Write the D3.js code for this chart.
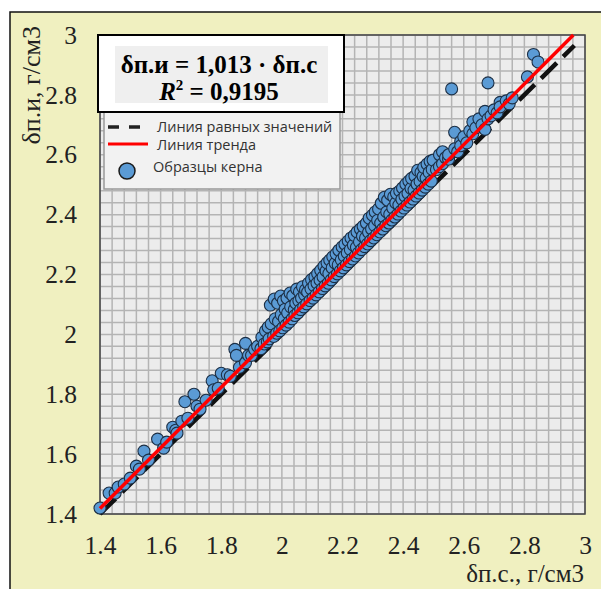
<!DOCTYPE html>
<html>
<head>
<meta charset="utf-8">
<script src="https://cdnjs.cloudflare.com/ajax/libs/d3/7.8.5/d3.min.js"></script>
<style>
  html, body { margin: 0; padding: 0; background: #fff; }
</style>
</head>
<body>
<svg id="chart" width="601" height="589"></svg>
<script>
// tick values and labels
var xTicks = [1.4, 1.6, 1.8, 2, 2.2, 2.4, 2.6, 2.8, 3];
var yTicks = [1.4, 1.6, 1.8, 2, 2.2, 2.4, 2.6, 2.8, 3];
var xTitle = "δп.с., г/см3";
var yTitle = "δп.и, г/см3";
var eqText = "δп.и = 1,013 · δп.с";
var r2Value = "0,9195";
var trendSlope = 1.013;
var legendLabels = ["Линия равных значений", "Линия тренда", "Образцы керна"];

// core samples [δп.с, δп.и]
var samples = [
  [1.40,1.42],[1.43,1.47],[1.45,1.47],[1.46,1.49],[1.48,1.50],[1.50,1.52],[1.52,1.56],[1.53,1.55],
  [1.545,1.61],[1.56,1.58],[1.59,1.65],[1.61,1.62],[1.62,1.64],[1.64,1.69],[1.65,1.68],[1.654,1.67],
  [1.67,1.71],[1.68,1.775],[1.69,1.72],[1.71,1.80],[1.72,1.76],[1.73,1.75],[1.75,1.78],[1.77,1.845],
  [1.775,1.815],[1.79,1.82],[1.80,1.87],[1.82,1.865],[1.83,1.86],[1.845,1.95],[1.85,1.93],[1.86,1.89],
  [1.88,1.97],[1.88,1.905],[1.89,1.93],[1.90,1.93],[1.91,1.95],[1.92,1.96],
  [1.931,1.952],[1.934,1.99],[1.942,1.968],[1.946,2.012],[1.952,1.975],[1.955,2.024],[1.958,1.985],
  [1.962,2.098],[1.965,2.035],[1.973,1.993],[1.975,2.118],[1.978,2.052],[1.983,2.004],[1.986,2.104],
  [1.989,2.043],[1.993,2.012],[1.996,2.128],[1.998,2.066],[2.003,2.022],[2.005,2.112],[2.008,2.053],
  [2.011,2.084],[2.014,2.031],[2.017,2.121],[2.019,2.072],[2.024,2.041],[2.027,2.138],[2.029,2.092],
  [2.034,2.052],[2.036,2.129],[2.041,2.083],[2.043,2.063],[2.046,2.104],[2.049,2.151],[2.053,2.072],
  [2.056,2.112],[2.058,2.142],[2.062,2.083],[2.065,2.121],[2.068,2.159],[2.072,2.092],[2.075,2.132],
  [2.078,2.149],[2.082,2.102],[2.085,2.141],[2.088,2.171],[2.093,2.113],[2.096,2.152],[2.098,2.183],
  [2.103,2.121],[2.106,2.163],[2.109,2.192],[2.113,2.132],[2.116,2.171],[2.118,2.203],[2.123,2.142],
  [2.126,2.181],[2.128,2.214],[2.134,2.153],[2.136,2.192],[2.139,2.228],[2.143,2.162],[2.146,2.212],
  [2.149,2.239],[2.153,2.171],[2.155,2.203],[2.158,2.248],[2.163,2.182],[2.166,2.222],[2.168,2.259],
  [2.173,2.193],[2.176,2.238],[2.179,2.269],[2.183,2.202],[2.186,2.232],[2.188,2.281],[2.193,2.212],
  [2.196,2.249],[2.199,2.292],[2.203,2.222],[2.206,2.261],[2.208,2.301],[2.213,2.232],[2.216,2.272],
  [2.219,2.312],[2.223,2.243],[2.226,2.283],[2.228,2.322],[2.233,2.252],[2.236,2.298],[2.239,2.331],
  [2.243,2.262],[2.246,2.291],[2.248,2.342],[2.253,2.272],[2.256,2.309],[2.259,2.352],[2.263,2.283],
  [2.266,2.328],[2.268,2.361],[2.273,2.293],[2.276,2.322],[2.279,2.372],[2.283,2.302],[2.286,2.341],
  [2.288,2.388],[2.293,2.313],[2.296,2.352],[2.299,2.398],[2.303,2.322],[2.306,2.363],[2.308,2.409],
  [2.313,2.333],[2.316,2.381],[2.319,2.419],[2.323,2.342],[2.326,2.372],[2.328,2.438],[2.333,2.352],
  [2.336,2.392],[2.338,2.458],[2.343,2.363],[2.346,2.409],[2.349,2.448],[2.353,2.372],[2.356,2.401],
  [2.358,2.468],[2.363,2.382],[2.366,2.422],[2.369,2.459],[2.373,2.392],[2.376,2.439],[2.378,2.471],
  [2.383,2.402],[2.386,2.432],[2.389,2.479],[2.393,2.412],[2.396,2.451],[2.398,2.489],[2.403,2.422],
  [2.406,2.462],[2.409,2.502],[2.413,2.432],[2.416,2.471],[2.419,2.512],[2.423,2.442],[2.426,2.488],
  [2.428,2.521],[2.433,2.452],[2.436,2.482],[2.439,2.529],[2.443,2.462],[2.446,2.502],[2.448,2.548],
  [2.453,2.472],[2.456,2.511],[2.459,2.541],[2.463,2.482],[2.466,2.528],[2.468,2.558],[2.473,2.492],
  [2.476,2.522],[2.479,2.569],[2.483,2.502],[2.486,2.541],[2.489,2.578],[2.493,2.512],[2.496,2.551],
  [2.499,2.582],
  [2.51,2.55],[2.52,2.60],[2.52,2.56],[2.53,2.61],[2.53,2.57],[2.54,2.59],[2.55,2.585],[2.55,2.60],
  [2.56,2.82],[2.57,2.675],[2.57,2.62],[2.58,2.61],[2.59,2.645],[2.59,2.63],[2.60,2.66],[2.61,2.64],
  [2.62,2.68],[2.63,2.71],[2.63,2.67],[2.64,2.69],[2.65,2.72],[2.66,2.70],[2.67,2.685],[2.67,2.745],
  [2.68,2.84],[2.68,2.72],[2.69,2.73],[2.70,2.75],[2.71,2.74],[2.72,2.775],[2.72,2.76],[2.74,2.78],
  [2.75,2.77],[2.76,2.79],[2.81,2.86],[2.83,2.935],[2.845,2.91]
];

var serif = "'Liberation Serif', 'Times New Roman', serif";
var sans = "'Open Sans', 'Noto Sans', sans-serif";

var svg = d3.select("#chart");

// outer chart area
svg.append("rect").attr("x", 10).attr("y", 12).attr("width", 620).attr("height", 600)
  .attr("fill", "#f0f0c0").attr("stroke", "#111").attr("stroke-width", 1.5);

var plot = {left: 100, top: 35, right: 585, bottom: 514};
var x = d3.scaleLinear().domain([1.4, 3]).range([plot.left, plot.right]);
var y = d3.scaleLinear().domain([1.4, 3]).range([plot.bottom, plot.top]);

svg.append("rect").attr("x", plot.left).attr("y", plot.top)
  .attr("width", plot.right - plot.left).attr("height", plot.bottom - plot.top)
  .attr("fill", "#ececec");

// minor grid every 0.04
var grid = d3.range(0, 41).map(function (i) { return 1.4 + i * 0.04; });
svg.append("g").selectAll("line").data(grid).enter().append("line")
  .attr("x1", function (d) { return x(d); }).attr("x2", function (d) { return x(d); })
  .attr("y1", plot.top).attr("y2", plot.bottom)
  .attr("stroke", "#b4b4b4").attr("stroke-width", 1.5);
svg.append("g").selectAll("line").data(grid).enter().append("line")
  .attr("y1", function (d) { return y(d); }).attr("y2", function (d) { return y(d); })
  .attr("x1", plot.left).attr("x2", plot.right)
  .attr("stroke", "#b4b4b4").attr("stroke-width", 1.5);

svg.append("rect").attr("x", plot.left).attr("y", plot.top)
  .attr("width", plot.right - plot.left).attr("height", plot.bottom - plot.top)
  .attr("fill", "none").attr("stroke", "#444").attr("stroke-width", 1.5);

// axes
var xAxis = d3.axisBottom(x).tickValues(xTicks).tickSize(0).tickPadding(22)
  .tickFormat(function (d) { return String(d); });
var yAxis = d3.axisLeft(y).tickValues(yTicks).tickSize(0).tickPadding(23)
  .tickFormat(function (d) { return String(d); });
var gx = svg.append("g").attr("transform", "translate(0," + plot.bottom + ")").call(xAxis);
var gy = svg.append("g").attr("transform", "translate(" + plot.left + ",0)").call(yAxis);
[gx, gy].forEach(function (g) {
  g.select(".domain").remove();
  g.selectAll("text").style("font-family", serif).style("font-size", "25.5px").style("fill", "#222");
});

svg.append("text").attr("x", 584).attr("y", 582).attr("text-anchor", "end")
  .style("font-family", serif).style("font-size", "25px").style("fill", "#222").text(xTitle);
svg.append("text").attr("transform", "translate(40,26) rotate(-90)").attr("text-anchor", "end")
  .style("font-family", serif).style("font-size", "26px").style("fill", "#222").text(yTitle);

// equal-values line
svg.append("line")
  .attr("x1", x(1.4)).attr("y1", y(1.4)).attr("x2", x(2.965)).attr("y2", y(2.965))
  .attr("stroke", "#111").attr("stroke-width", 4.5).attr("stroke-dasharray", "22,9");

// samples
svg.append("g").selectAll("circle").data(samples).enter().append("circle")
  .attr("cx", function (d) { return x(d[0]); })
  .attr("cy", function (d) { return y(d[1]); })
  .attr("r", 6)
  .attr("fill", "#5b9bd5").attr("stroke", "#1c2f45").attr("stroke-width", 1.1);

// trend line
svg.append("line")
  .attr("x1", x(1.4)).attr("y1", y(1.4 * trendSlope))
  .attr("x2", x(3 / trendSlope)).attr("y2", y(3))
  .attr("stroke", "#ff0000").attr("stroke-width", 3.5);

// legend
var lg = svg.append("g");
lg.append("rect").attr("x", 104).attr("y", 112).attr("width", 236).attr("height", 77)
  .attr("fill", "#f2f2f2").attr("stroke", "#999").attr("stroke-width", 1.5);
lg.append("line").attr("x1", 108).attr("x2", 143).attr("y1", 127).attr("y2", 127)
  .attr("stroke", "#222").attr("stroke-width", 3.5).attr("stroke-dasharray", "11,10");
lg.append("line").attr("x1", 108).attr("x2", 148).attr("y1", 144).attr("y2", 144)
  .attr("stroke", "#ff0000").attr("stroke-width", 3);
lg.append("circle").attr("cx", 127).attr("cy", 171).attr("r", 8)
  .attr("fill", "#5b9bd5").attr("stroke", "#1a1a1a").attr("stroke-width", 1.5);
[[157, 132], [157, 150], [153, 172]].forEach(function (p, i) {
  lg.append("text").attr("x", p[0]).attr("y", p[1])
    .style("font-family", sans).style("font-size", "14.5px").style("fill", "#333")
    .text(legendLabels[i]);
});

// equation box
svg.append("rect").attr("x", 98).attr("y", 35).attr("width", 246).attr("height", 77)
  .attr("fill", "#fff").attr("stroke", "#000").attr("stroke-width", 2);
svg.append("rect").attr("x", 115).attr("y", 46).attr("width", 213).attr("height", 57)
  .attr("fill", "#efefef");
svg.append("text").attr("x", 219).attr("y", 73).attr("text-anchor", "middle")
  .style("font-family", serif).style("font-size", "25px").style("font-weight", "bold")
  .style("fill", "#000").text(eqText);
var r2 = svg.append("text").attr("x", 219).attr("y", 100).attr("text-anchor", "middle")
  .style("font-family", serif).style("font-size", "25px").style("font-weight", "bold")
  .style("fill", "#000");
r2.append("tspan").style("font-style", "italic").text("R");
r2.append("tspan").style("font-size", "15px").attr("dy", -10).text("2");
r2.append("tspan").attr("dy", 10).text(" = " + r2Value);
</script>
</body>
</html>
